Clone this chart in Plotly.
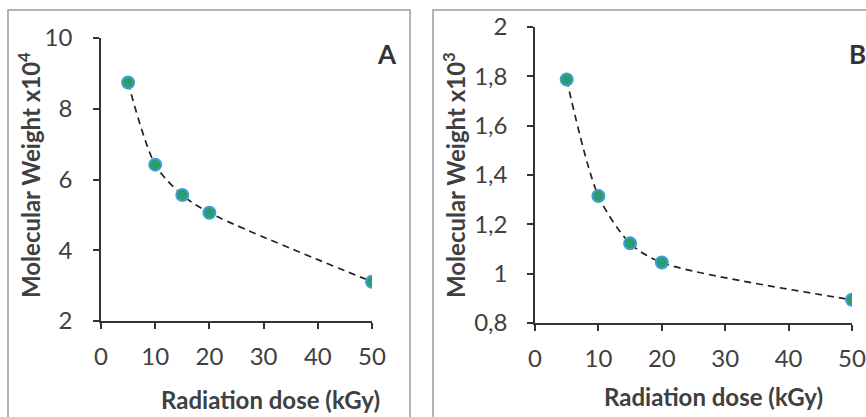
import plotly.graph_objects as go

dose = [5, 10, 15, 20, 50]
mw_a = [8.74, 6.42, 5.56, 5.06, 3.11]   # x10^4
mw_b = [1.787, 1.315, 1.123, 1.045, 0.894]  # x10^3

x_ticks = [0, 10, 20, 30, 40, 50]
ya_ticks = [2, 4, 6, 8, 10]
yb_ticks = [0.8, 1.0, 1.2, 1.4, 1.6, 1.8, 2.0]
yb_text = ["0,8", "1", "1,2", "1,4", "1,6", "1,8", "2"]

W, H = 866, 417
FONT = "Lato"
TXT = "#404040"

def px(x):
    return x / W

def py(y):
    return 1 - y / H

fig = go.Figure()
marker = dict(size=12, color="#2f9a6e", line=dict(color="#3aa2d2", width=2))
line = dict(color="#222222", width=1.7, dash="7px,5px", shape="spline", smoothing=0.8)

fig.add_trace(go.Scatter(x=dose, y=mw_a, mode="lines+markers", marker=marker, line=line,
                         xaxis="x", yaxis="y", showlegend=False))
fig.add_trace(go.Scatter(x=dose, y=mw_b, mode="lines+markers", marker=marker, line=line,
                         xaxis="x2", yaxis="y2", showlegend=False))

axis_common = dict(showgrid=False, zeroline=False, showline=True, linecolor="#333333",
                   linewidth=1.5, ticks="outside", ticklen=6, tickcolor="#333333", tickwidth=1.5,
                   automargin=False, ticklabeloverflow="allow",
                   tickfont=dict(family=FONT, size=24, color=TXT))

fig.update_layout(
    width=W, height=H, margin=dict(l=0, r=0, t=0, b=0, pad=0),
    paper_bgcolor="white", plot_bgcolor="white",
    xaxis=dict(domain=[px(101), px(372)], range=[0, 50], tickvals=x_ticks, anchor="y",
               ticklabelstandoff=7, **axis_common),
    yaxis=dict(domain=[py(321), py(38)], range=[2, 10], tickvals=ya_ticks, anchor="x",
               ticklabelstandoff=16, **axis_common),
    xaxis2=dict(domain=[px(535), px(852)], range=[0, 50], tickvals=x_ticks, anchor="y2",
                ticklabelstandoff=7, **axis_common),
    yaxis2=dict(domain=[py(323), py(27)], range=[0.8, 2.0], tickvals=yb_ticks, ticktext=yb_text,
                anchor="x2", ticklabelstandoff=15, **axis_common),
)

frame = dict(type="rect", xref="paper", yref="paper", line=dict(color="#9a9a9a", width=1.5),
             fillcolor="rgba(0,0,0,0)", layer="below")
fig.add_shape(x0=px(8), x1=px(410), y0=-0.05, y1=py(10), **frame)
fig.add_shape(x0=px(433), x1=1.05, y0=-0.05, y1=py(10), **frame)

title_font = dict(family=FONT, size=24, color=TXT)
ann = [
    dict(text="<b>Radiation dose (kGy)</b>", x=px(270), y=py(399)),
    dict(text="<b>Molecular Weight x10<sup>4</sup></b>", x=px(29), y=py(175), textangle=-90),
    dict(text="<b>Radiation dose (kGy)</b>", x=px(713), y=py(396)),
    dict(text="<b>Molecular Weight x10<sup>3</sup></b>", x=px(454), y=py(175), textangle=-90),
]
for a in ann:
    fig.add_annotation(xref="paper", yref="paper", showarrow=False, font=title_font,
                       xanchor="center", yanchor="middle", **a)

fig.add_annotation(text="<b>A</b>", x=px(387), y=py(36), xref="paper", yref="paper",
                   showarrow=False, font=dict(family=FONT, size=26, color="#333333"))
fig.add_annotation(text="<b>B</b>", x=px(847), y=py(36), xref="paper", yref="paper",
                   showarrow=False, xanchor="left", font=dict(family=FONT, size=26, color="#333333"))

fig.write_html("out.html", config={"displayModeBar": False},
               post_script="document.body.style.margin='0';document.body.style.overflow='hidden';")
